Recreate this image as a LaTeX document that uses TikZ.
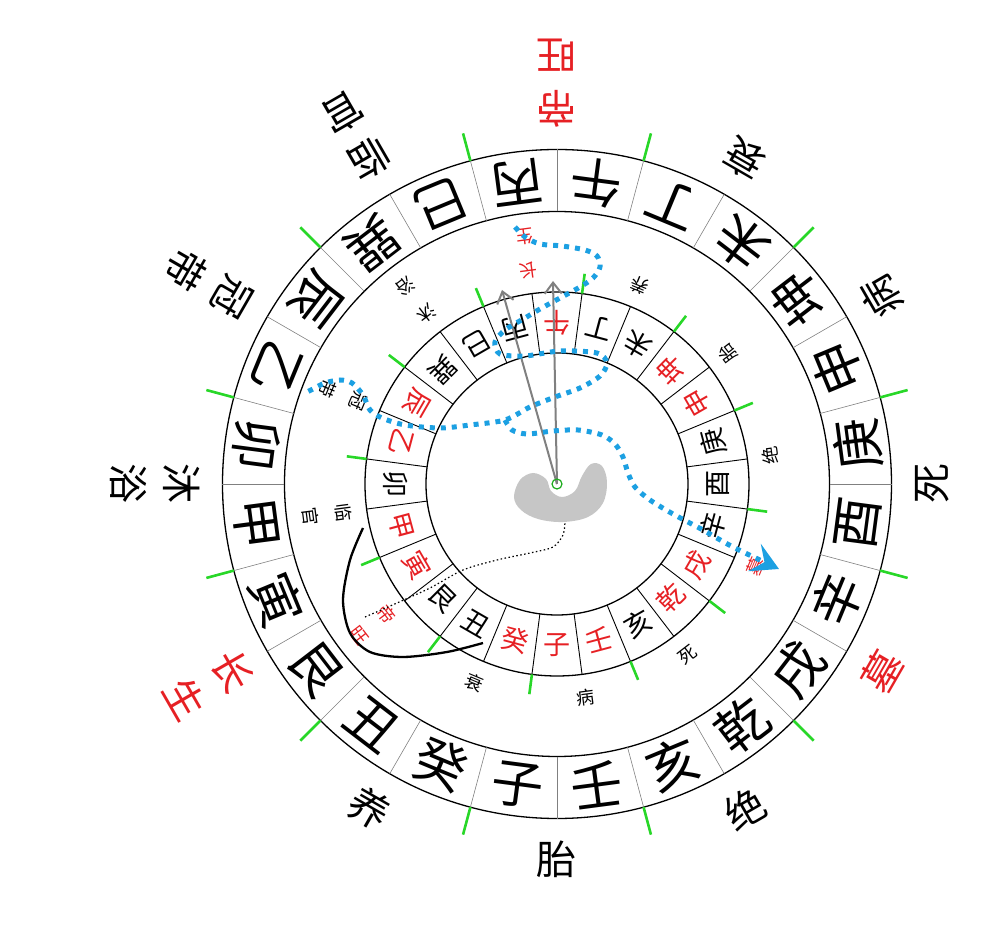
\documentclass[tikz,border=0pt]{standalone}
\usepackage{fontspec}
\newfontfamily\cjk{Noto Sans CJK SC}
\usetikzlibrary{arrows.meta}
\definecolor{kred}{RGB}{230,32,36}
\definecolor{kblue}{RGB}{28,160,226}
\definecolor{kgreen}{RGB}{40,215,40}
\tikzset{
  outerchar/.style={font=\cjk\fontsize{52}{52}\selectfont, inner sep=0pt},
  innerchar/.style={font=\cjk\fontsize{27}{27}\selectfont, inner sep=0pt},
  outerstage/.style={font=\cjk\fontsize{40}{40}\selectfont, inner sep=0pt},
  innerstage/.style={font=\cjk\fontsize{18}{18}\selectfont, inner sep=0pt},
  greentick/.style={kgreen, line width=2.6pt},
  blueway/.style={kblue, line width=5pt, dash pattern=on 5pt off 6pt},
}
\begin{document}
\begin{tikzpicture}[x=1pt,y=1pt]
    \useasboundingbox (-557,-455) rectangle (442,484);

    % two rings
    \draw [line width=1.3pt] (0,0) circle [radius=334.5pt] (0,0) circle [radius=272.5pt];
    \draw [line width=1.3pt] (0,0) circle [radius=192pt] (0,0) circle [radius=131pt];
    \foreach \i in {0,...,23}
      \draw [gray, line width=0.6pt] ({15*\i}:272.5) -- ({15*\i}:334.5);
    \foreach \i in {0,...,23}
      \draw [line width=0.9pt] ({7.5+15*\i}:131) -- ({7.5+15*\i}:192);
    \foreach \i in {0,...,11}{
      \draw [greentick] ({15+30*\i}:334.5) -- ({15+30*\i}:363);
      \draw [greentick] ({22.5+30*\i}:192) -- ({22.5+30*\i}:212);
    }

    % outer ring
    \foreach \c [count=\i from 0] in {午,丁,未,坤,申,庚,酉,辛,戌,乾,亥,壬,子,癸,丑,艮,寅,甲,卯,乙,辰,巽,巳,丙}{
      \pgfmathsetmacro\a{7.5+15*\i}
      \node [outerchar, rotate=180-\a] (om\i) at ({90-\a}:303.5) {\c};
    }

    % inner ring
    \foreach \c/\k [count=\i from 0] in {午/kred,丁/black,未/black,坤/kred,申/kred,庚/black,酉/black,辛/black,戌/kred,乾/kred,亥/black,壬/kred,子/kred,癸/kred,丑/black,艮/black,寅/kred,甲/kred,卯/black,乙/kred,辰/kred,巽/black,巳/black,丙/black}{
      \pgfmathsetmacro\a{15*\i}
      \node [innerchar, text=\k, rotate=180-\a] (im\i) at ({90-\a}:161.5) {\c};
    }

    % stages outside
    \foreach \a/\s/\t/\k [count=\i] in {0/帝/旺/kred,30/衰/{}/black,60/病/{}/black,90/死/{}/black,120/墓/{}/kred,150/绝/{}/black,180/胎/{}/black,210/养/{}/black,240/长/生/kred,270/沐/浴/black,300/冠/带/black,330/临/官/black}{
      \node [outerstage, text=\k, rotate=180-\a] (osa\i) at ({90-\a}:375) {\s};
      \node [outerstage, text=\k, rotate=180-\a] (osb\i) at ({90-\a}:429) {\t};
    }

    % stages inside
    \foreach \a/\s/\t/\k [count=\i] in {352.5/长/生/kred,22.5/养/{}/black,52.5/胎/{}/black,82.5/绝/{}/black,112.5/墓/{}/kred,142.5/死/{}/black,172.5/病/{}/black,202.5/衰/{}/black,232.5/帝/旺/kred,262.5/临/官/black,292.5/冠/带/black,322.5/沐/浴/black}{
      \node [innerstage, text=\k, rotate=180-\a] (isa\i) at ({90-\a}:215) {\s};
      \node [innerstage, text=\k, rotate=180-\a] (isb\i) at ({90-\a}:249) {\t};
    }

    % centre
    \coordinate (ctr) at (0,0);
    \coordinate (tipA) at (-55,194);
    \coordinate (tipB) at (-4,203);
    \begin{scope}[shift={(-557,484)}, yscale=-1]
      \fill [gray!45] plot [smooth cycle, tension=0.6] coordinates {(514,497) (520,480) (533,473) (546,479) (551,491) (562,497) (575,491) (582,476) (591,464) (602,466) (607,482) (603,503) (588,517) (563,522) (538,519) (521,510)};
      \draw [line width=2.3pt] plot [smooth] coordinates {(363,528) (350,560) (343,600) (350,633) (370,652) (403,657) (447,652) (483,643)};
      \draw [line width=1.2pt, dash pattern=on 1.5pt off 2.5pt] plot [smooth] coordinates {(365,617) (397,603) (430,588) (463,570) (497,560) (530,553) (553,547) (563,535) (565,522)};
    \end{scope}
    \draw [gray, line width=2pt, -{Straight Barb[length=11pt,width=17pt]}] (ctr) -- (tipA);
    \draw [gray, line width=2pt, -{Straight Barb[length=11pt,width=17pt]}] (ctr) -- (tipB);
    \draw [kgreen!80!black, line width=1.2pt] (ctr) circle [radius=5pt];

    % blue way
    \begin{scope}[shift={(-557,484)}, yscale=-1]
      \draw [blueway] plot [smooth] coordinates {(515,227) (525,237) (540,244) (562,246) (585,250) (597,256) (600,267) (593,278) (580,287) (560,298) (540,309) (525,318) (505,330) (495,342) (500,354) (525,356) (560,351) (597,353) (607,363) (600,376) (580,388) (555,397) (530,407) (505,420) (470,425) (440,428) (405,425) (382,418) (370,410) (363,395) (352,383) (340,380) (325,383) (313,389) (305,393)};
      \draw [blueway, -{Stealth[length=27pt,width=30pt,inset=11pt]}] plot [smooth] coordinates {(505,420) (512,430) (527,434) (553,431) (578,430) (602,435) (615,444) (623,457) (628,473) (635,487) (650,500) (673,514) (703,530) (733,547) (779,569)};
    \end{scope}
\end{tikzpicture}
\end{document}
